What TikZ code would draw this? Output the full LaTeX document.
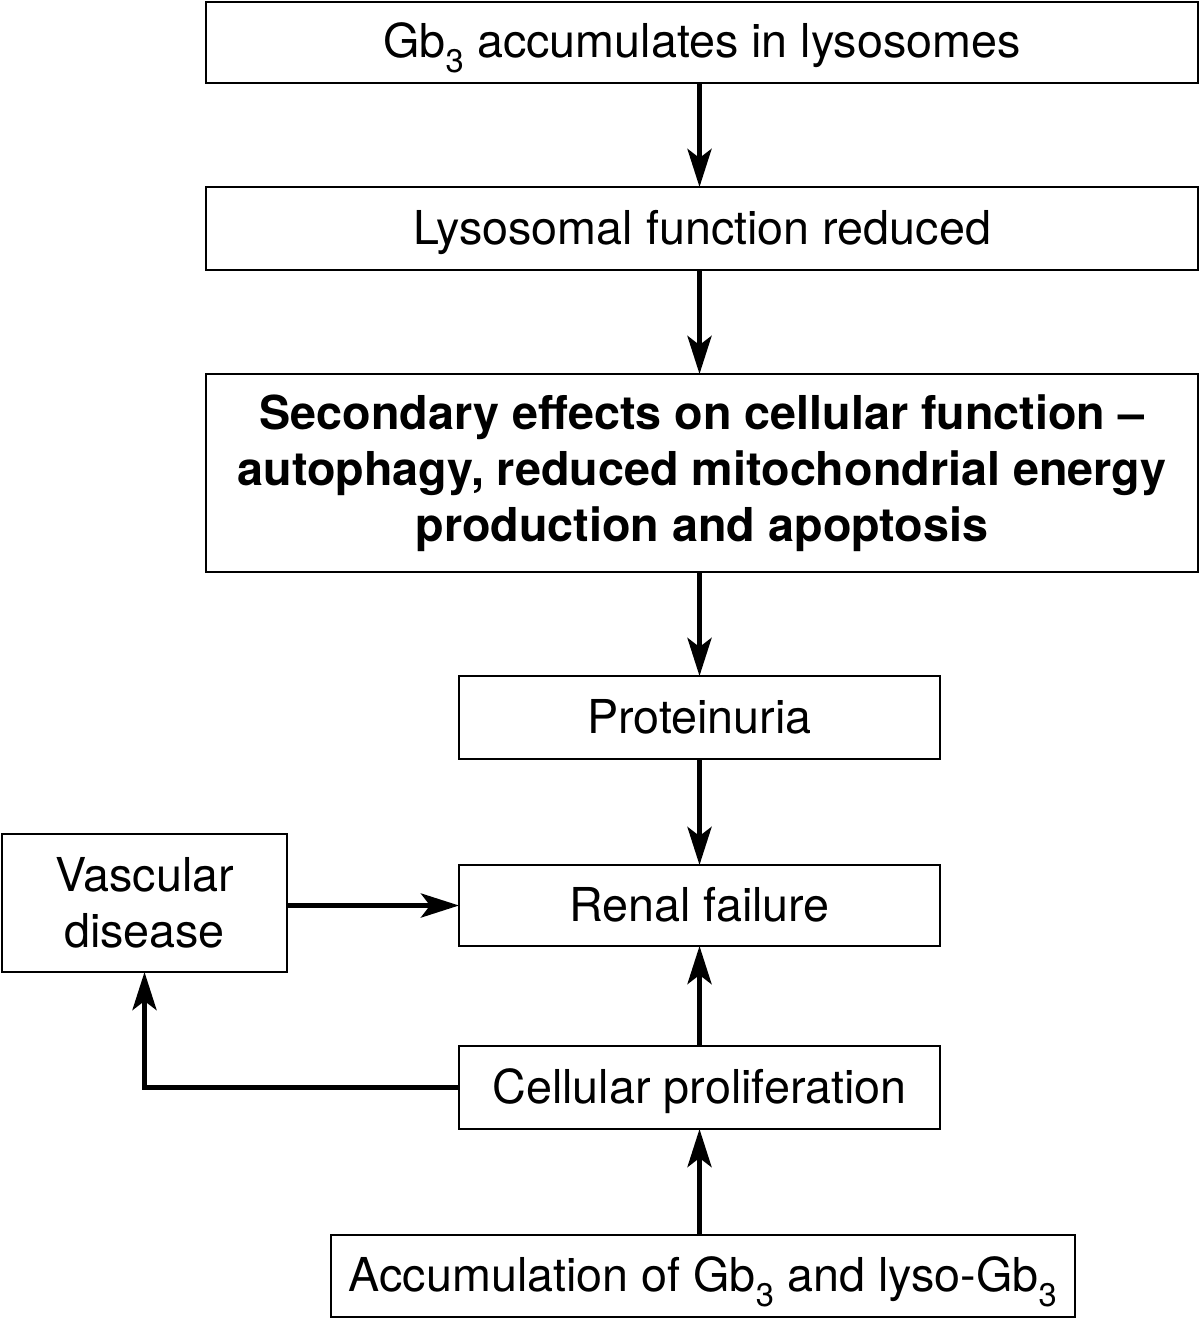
\documentclass[tikz,border=0pt]{standalone}
\usepackage{fontspec}
\setmainfont{TeX Gyre Heros}
\usetikzlibrary{arrows.meta}
\begin{document}
\begin{tikzpicture}[x=1pt,y=-1pt,
  box/.style={draw=black,line width=2.5pt,fill=white,inner sep=0pt,outer sep=0pt,align=center,
    font=\fontsize{46.7}{56}\selectfont},
  one/.style={text height=40pt,text depth=9pt},
  arr/.style={line width=5pt,-{Stealth[length=38pt,width=24pt,inset=9pt]}}]
\useasboundingbox (0,0) rectangle (1200,1319);
\node[box,one,minimum width=992,minimum height=81] (b1) at (702,42.5) {Gb\textsubscript{3} accumulates in lysosomes};
\node[box,one,minimum width=992,minimum height=83] (b2) at (702,228.5) {Lysosomal function reduced};
\node[box,minimum width=992,minimum height=198,font=\fontsize{46.7}{56}\selectfont\bfseries] (b3) at (702,473) {Secondary effects on cellular function --\\autophagy, reduced mitochondrial energy\\production and apoptosis};
\node[box,one,minimum width=481,minimum height=83] (b4) at (699.5,717.5) {Proteinuria};
\node[box,one,minimum width=481,minimum height=81] (b5) at (699.5,905.5) {Renal failure};
\node[box,minimum width=285,minimum height=138] (b6) at (144.5,903) {Vascular\\disease};
\node[box,one,minimum width=481,minimum height=83] (b7) at (699.5,1087.5) {Cellular proliferation};
\node[box,one,minimum width=744,minimum height=82] (b8) at (703,1276) {Accumulation of Gb\textsubscript{3} and lyso-Gb\textsubscript{3}};
\draw[arr] (b1.south -| b4) -- (b2.north -| b4);
\draw[arr] (b2.south -| b4) -- (b3.north -| b4);
\draw[arr] (b3.south -| b4) -- (b4.north);
\draw[arr] (b4.south) -- (b5.north);
\draw[arr] (b7.north) -- (b5.south);
\draw[arr] (b8.north -| b7) -- (b7.south);
\draw[arr] (b6.east |- b5.west) -- (b5.west);
\draw[arr] (b7.west) -| (b6.south);
\end{tikzpicture}
\end{document}
